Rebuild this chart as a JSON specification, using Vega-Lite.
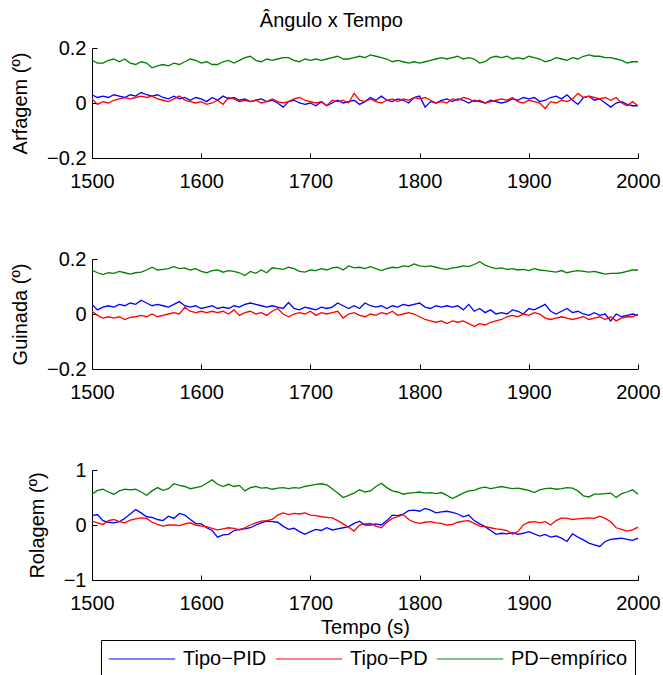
{
  "$schema": "https://vega.github.io/schema/vega-lite/v6.json",
  "padding": {"left": 10, "top": 11, "right": 5, "bottom": 5},
  "title": {"text": "Ângulo x Tempo", "fontSize": 20, "fontWeight": "normal", "font": "Liberation Sans", "color": "black", "anchor": "middle", "offset": 7, "dx": -4},
  "config": {
    "font": "Liberation Sans",
    "view": {"stroke": null},
    "axis": {"domainColor": "black", "tickColor": "black", "labelColor": "black", "titleColor": "black", "labelFontSize": 20, "titleFontSize": 20, "titleFontWeight": "normal", "grid": false, "tickSize": -5, "domainWidth": 1, "tickWidth": 1, "labelFont": "Liberation Sans", "titleFont": "Liberation Sans"},
    "axisY": {"labelPadding": 11, "titlePadding": 16},
    "axisX": {"labelPadding": 18, "titlePadding": 4, "labelFlush": false},
    "legend": {"orient": "none", "legendX": 9, "legendY": 592, "direction": "horizontal", "strokeColor": "black", "padding": 7, "symbolType": "stroke", "symbolSize": 4400, "symbolStrokeWidth": 1.2, "clipHeight": 24, "labelOffset": 7, "columnPadding": 8, "labelFontSize": 20, "labelFont": "Liberation Sans", "labelColor": "black", "labelLimit": 300, "title": null, "cornerRadius": 0}
  },
  "resolve": {"scale": {"color": "shared"}, "legend": {"color": "shared"}},
  "spacing": 58,
  "datasets": {
    "arfagem": [
      {"t":1500,"pid":0.03,"pd":0.015,"emp":0.155},{"t":1505,"pid":0.02,"pd":-0.005,"emp":0.145},{"t":1510,"pid":0.025,"pd":0.005,"emp":0.145},{"t":1515,"pid":0.02,"pd":0.0,"emp":0.155},{"t":1520,"pid":0.03,"pd":0.01,"emp":0.16},{"t":1525,"pid":0.025,"pd":0.015,"emp":0.15},{"t":1530,"pid":0.02,"pd":0.02,"emp":0.16},{"t":1535,"pid":0.03,"pd":0.015,"emp":0.145},{"t":1540,"pid":0.025,"pd":0.02,"emp":0.14},{"t":1545,"pid":0.038,"pd":0.025,"emp":0.15},
      {"t":1550,"pid":0.03,"pd":0.02,"emp":0.145},{"t":1555,"pid":0.025,"pd":0.025,"emp":0.128},{"t":1560,"pid":0.03,"pd":0.015,"emp":0.135},{"t":1565,"pid":0.02,"pd":0.01,"emp":0.14},{"t":1570,"pid":0.015,"pd":0.005,"emp":0.135},{"t":1575,"pid":0.025,"pd":0.015,"emp":0.145},{"t":1580,"pid":0.015,"pd":0.025,"emp":0.14},{"t":1585,"pid":0.02,"pd":0.01,"emp":0.15},{"t":1590,"pid":0.01,"pd":0.005,"emp":0.16},{"t":1595,"pid":0.02,"pd":0.0,"emp":0.155},
      {"t":1600,"pid":0.015,"pd":0.005,"emp":0.145},{"t":1605,"pid":0.005,"pd":-0.005,"emp":0.15},{"t":1610,"pid":0.02,"pd":0.0,"emp":0.14},{"t":1615,"pid":0.01,"pd":0.01,"emp":0.14},{"t":1620,"pid":0.025,"pd":-0.005,"emp":0.15},{"t":1625,"pid":0.015,"pd":0.02,"emp":0.155},{"t":1630,"pid":0.02,"pd":0.015,"emp":0.145},{"t":1635,"pid":0.01,"pd":0.005,"emp":0.155},{"t":1640,"pid":0.015,"pd":0.01,"emp":0.165},{"t":1645,"pid":0.005,"pd":0.005,"emp":0.17},
      {"t":1650,"pid":0.01,"pd":0.01,"emp":0.155},{"t":1655,"pid":0.015,"pd":0.0,"emp":0.15},{"t":1660,"pid":0.005,"pd":0.005,"emp":0.16},{"t":1665,"pid":0.01,"pd":0.015,"emp":0.155},{"t":1670,"pid":0.0,"pd":0.005,"emp":0.16},{"t":1675,"pid":-0.015,"pd":0.0,"emp":0.165},{"t":1680,"pid":0.005,"pd":0.005,"emp":0.165},{"t":1685,"pid":0.01,"pd":0.015,"emp":0.155},{"t":1690,"pid":0.0,"pd":0.02,"emp":0.15},{"t":1695,"pid":-0.005,"pd":0.01,"emp":0.16},
      {"t":1700,"pid":0.0,"pd":0.005,"emp":0.155},{"t":1705,"pid":-0.01,"pd":0.0,"emp":0.16},{"t":1710,"pid":0.005,"pd":0.005,"emp":0.155},{"t":1715,"pid":-0.01,"pd":-0.01,"emp":0.16},{"t":1720,"pid":0.0,"pd":0.01,"emp":0.165},{"t":1725,"pid":0.01,"pd":0.005,"emp":0.17},{"t":1730,"pid":0.0,"pd":0.01,"emp":0.16},{"t":1735,"pid":0.005,"pd":0.0,"emp":0.16},{"t":1740,"pid":0.01,"pd":0.035,"emp":0.165},{"t":1745,"pid":-0.005,"pd":0.01,"emp":0.17},
      {"t":1750,"pid":0.005,"pd":0.005,"emp":0.165},{"t":1755,"pid":0.02,"pd":0.015,"emp":0.175},{"t":1760,"pid":0.01,"pd":0.005,"emp":0.17},{"t":1765,"pid":0.025,"pd":0.0,"emp":0.165},{"t":1770,"pid":0.01,"pd":0.01,"emp":0.16},{"t":1775,"pid":0.005,"pd":0.015,"emp":0.15},{"t":1780,"pid":0.015,"pd":0.005,"emp":0.155},{"t":1785,"pid":0.01,"pd":0.015,"emp":0.15},{"t":1790,"pid":0.0,"pd":0.01,"emp":0.145},{"t":1795,"pid":0.02,"pd":0.02,"emp":0.15},
      {"t":1800,"pid":0.025,"pd":0.015,"emp":0.145},{"t":1805,"pid":-0.015,"pd":0.02,"emp":0.15},{"t":1810,"pid":0.005,"pd":0.01,"emp":0.155},{"t":1815,"pid":0.0,"pd":0.0,"emp":0.16},{"t":1820,"pid":0.01,"pd":0.005,"emp":0.165},{"t":1825,"pid":0.015,"pd":0.0,"emp":0.16},{"t":1830,"pid":0.005,"pd":0.015,"emp":0.165},{"t":1835,"pid":0.015,"pd":0.01,"emp":0.17},{"t":1840,"pid":0.01,"pd":0.02,"emp":0.16},{"t":1845,"pid":0.0,"pd":0.015,"emp":0.165},
      {"t":1850,"pid":0.01,"pd":0.005,"emp":0.16},{"t":1855,"pid":0.005,"pd":0.01,"emp":0.145},{"t":1860,"pid":0.0,"pd":0.0,"emp":0.15},{"t":1865,"pid":0.01,"pd":0.005,"emp":0.165},{"t":1870,"pid":0.005,"pd":0.01,"emp":0.17},{"t":1875,"pid":0.0,"pd":0.015,"emp":0.165},{"t":1880,"pid":0.005,"pd":0.01,"emp":0.17},{"t":1885,"pid":0.015,"pd":0.02,"emp":0.16},{"t":1890,"pid":0.01,"pd":0.005,"emp":0.165},{"t":1895,"pid":0.02,"pd":0.0,"emp":0.16},
      {"t":1900,"pid":0.015,"pd":0.01,"emp":0.17},{"t":1905,"pid":0.02,"pd":0.005,"emp":0.165},{"t":1910,"pid":0.005,"pd":0.0,"emp":0.16},{"t":1915,"pid":0.01,"pd":-0.02,"emp":0.15},{"t":1920,"pid":0.02,"pd":0.005,"emp":0.155},{"t":1925,"pid":0.025,"pd":0.0,"emp":0.165},{"t":1930,"pid":0.015,"pd":0.01,"emp":0.16},{"t":1935,"pid":0.03,"pd":0.005,"emp":0.155},{"t":1940,"pid":0.01,"pd":0.015,"emp":0.165},{"t":1945,"pid":-0.005,"pd":0.035,"emp":0.16},
      {"t":1950,"pid":0.02,"pd":0.02,"emp":0.17},{"t":1955,"pid":0.025,"pd":0.025,"emp":0.175},{"t":1960,"pid":0.01,"pd":0.02,"emp":0.17},{"t":1965,"pid":0.015,"pd":0.015,"emp":0.17},{"t":1970,"pid":0.0,"pd":0.02,"emp":0.165},{"t":1975,"pid":-0.015,"pd":0.01,"emp":0.165},{"t":1980,"pid":0.0,"pd":0.02,"emp":0.16},{"t":1985,"pid":0.005,"pd":0.0,"emp":0.155},{"t":1990,"pid":-0.005,"pd":-0.01,"emp":0.145},{"t":1995,"pid":-0.01,"pd":0.005,"emp":0.15},
      {"t":2000,"pid":-0.01,"pd":-0.01,"emp":0.15}
    ],
    "guinada": [
      {"t":1500,"pid":0.035,"pd":0.01,"emp":0.16},{"t":1505,"pid":0.015,"pd":-0.005,"emp":0.15},{"t":1510,"pid":0.025,"pd":-0.015,"emp":0.143},{"t":1515,"pid":0.03,"pd":-0.01,"emp":0.15},{"t":1520,"pid":0.025,"pd":-0.015,"emp":0.148},{"t":1525,"pid":0.035,"pd":-0.01,"emp":0.155},{"t":1530,"pid":0.03,"pd":-0.02,"emp":0.15},{"t":1535,"pid":0.04,"pd":-0.012,"emp":0.145},{"t":1540,"pid":0.035,"pd":-0.01,"emp":0.15},{"t":1545,"pid":0.05,"pd":-0.005,"emp":0.152},
      {"t":1550,"pid":0.04,"pd":-0.01,"emp":0.16},{"t":1555,"pid":0.03,"pd":0.0,"emp":0.17},{"t":1560,"pid":0.035,"pd":-0.01,"emp":0.16},{"t":1565,"pid":0.03,"pd":-0.005,"emp":0.162},{"t":1570,"pid":0.025,"pd":0.0,"emp":0.165},{"t":1575,"pid":0.035,"pd":0.005,"emp":0.172},{"t":1580,"pid":0.045,"pd":0.0,"emp":0.165},{"t":1585,"pid":0.03,"pd":0.025,"emp":0.168},{"t":1590,"pid":0.025,"pd":0.01,"emp":0.16},{"t":1595,"pid":0.03,"pd":0.005,"emp":0.165},
      {"t":1600,"pid":0.02,"pd":0.01,"emp":0.155},{"t":1605,"pid":0.025,"pd":0.005,"emp":0.15},{"t":1610,"pid":0.03,"pd":0.01,"emp":0.158},{"t":1615,"pid":0.02,"pd":0.005,"emp":0.16},{"t":1620,"pid":0.025,"pd":0.01,"emp":0.152},{"t":1625,"pid":0.02,"pd":0.0,"emp":0.158},{"t":1630,"pid":0.03,"pd":0.015,"emp":0.155},{"t":1635,"pid":0.025,"pd":-0.005,"emp":0.15},{"t":1640,"pid":0.035,"pd":0.005,"emp":0.14},{"t":1645,"pid":0.04,"pd":0.01,"emp":0.155},
      {"t":1650,"pid":0.035,"pd":0.0,"emp":0.148},{"t":1655,"pid":0.03,"pd":0.005,"emp":0.16},{"t":1660,"pid":0.025,"pd":-0.005,"emp":0.15},{"t":1665,"pid":0.03,"pd":0.01,"emp":0.168},{"t":1670,"pid":0.025,"pd":0.02,"emp":0.165},{"t":1675,"pid":0.02,"pd":0.0,"emp":0.162},{"t":1680,"pid":0.042,"pd":-0.01,"emp":0.17},{"t":1685,"pid":0.02,"pd":0.0,"emp":0.165},{"t":1690,"pid":0.015,"pd":0.005,"emp":0.155},{"t":1695,"pid":0.025,"pd":0.0,"emp":0.152},
      {"t":1700,"pid":0.02,"pd":0.01,"emp":0.16},{"t":1705,"pid":0.015,"pd":-0.005,"emp":0.158},{"t":1710,"pid":0.025,"pd":0.005,"emp":0.165},{"t":1715,"pid":0.02,"pd":0.0,"emp":0.16},{"t":1720,"pid":0.025,"pd":0.005,"emp":0.168},{"t":1725,"pid":0.04,"pd":0.01,"emp":0.17},{"t":1730,"pid":0.03,"pd":-0.015,"emp":0.16},{"t":1735,"pid":0.02,"pd":0.0,"emp":0.175},{"t":1740,"pid":0.03,"pd":0.005,"emp":0.168},{"t":1745,"pid":0.02,"pd":-0.005,"emp":0.17},
      {"t":1750,"pid":0.04,"pd":-0.01,"emp":0.165},{"t":1755,"pid":0.03,"pd":0.0,"emp":0.172},{"t":1760,"pid":0.025,"pd":-0.005,"emp":0.165},{"t":1765,"pid":0.03,"pd":0.005,"emp":0.158},{"t":1770,"pid":0.02,"pd":0.0,"emp":0.165},{"t":1775,"pid":0.03,"pd":0.01,"emp":0.17},{"t":1780,"pid":0.025,"pd":-0.005,"emp":0.168},{"t":1785,"pid":0.035,"pd":0.0,"emp":0.175},{"t":1790,"pid":0.03,"pd":0.005,"emp":0.172},{"t":1795,"pid":0.035,"pd":0.0,"emp":0.182},
      {"t":1800,"pid":0.04,"pd":-0.01,"emp":0.175},{"t":1805,"pid":0.025,"pd":-0.02,"emp":0.172},{"t":1810,"pid":0.02,"pd":-0.025,"emp":0.175},{"t":1815,"pid":0.03,"pd":-0.03,"emp":0.17},{"t":1820,"pid":0.025,"pd":-0.025,"emp":0.165},{"t":1825,"pid":0.03,"pd":-0.035,"emp":0.162},{"t":1830,"pid":0.025,"pd":-0.025,"emp":0.168},{"t":1835,"pid":0.03,"pd":-0.03,"emp":0.17},{"t":1840,"pid":0.015,"pd":-0.025,"emp":0.175},{"t":1845,"pid":0.035,"pd":-0.035,"emp":0.172},
      {"t":1850,"pid":0.01,"pd":-0.045,"emp":0.18},{"t":1855,"pid":0.02,"pd":-0.035,"emp":0.19},{"t":1860,"pid":0.005,"pd":-0.04,"emp":0.178},{"t":1865,"pid":0.015,"pd":-0.03,"emp":0.17},{"t":1870,"pid":0.0,"pd":-0.025,"emp":0.165},{"t":1875,"pid":0.005,"pd":-0.02,"emp":0.168},{"t":1880,"pid":0.0,"pd":-0.01,"emp":0.162},{"t":1885,"pid":0.015,"pd":-0.005,"emp":0.165},{"t":1890,"pid":0.01,"pd":-0.01,"emp":0.16},{"t":1895,"pid":0.0,"pd":0.0,"emp":0.162},
      {"t":1900,"pid":0.02,"pd":-0.005,"emp":0.158},{"t":1905,"pid":0.015,"pd":0.005,"emp":0.165},{"t":1910,"pid":0.025,"pd":0.0,"emp":0.16},{"t":1915,"pid":0.035,"pd":-0.015,"emp":0.158},{"t":1920,"pid":0.01,"pd":-0.02,"emp":0.155},{"t":1925,"pid":0.0,"pd":-0.015,"emp":0.152},{"t":1930,"pid":0.01,"pd":-0.01,"emp":0.158},{"t":1935,"pid":0.02,"pd":-0.015,"emp":0.15},{"t":1940,"pid":0.005,"pd":-0.02,"emp":0.155},{"t":1945,"pid":0.01,"pd":-0.015,"emp":0.158},
      {"t":1950,"pid":0.0,"pd":-0.01,"emp":0.155},{"t":1955,"pid":-0.005,"pd":-0.02,"emp":0.152},{"t":1960,"pid":0.005,"pd":-0.015,"emp":0.155},{"t":1965,"pid":-0.005,"pd":-0.01,"emp":0.15},{"t":1970,"pid":0.0,"pd":-0.02,"emp":0.145},{"t":1975,"pid":-0.025,"pd":-0.01,"emp":0.148},{"t":1980,"pid":0.0,"pd":-0.025,"emp":0.148},{"t":1985,"pid":-0.01,"pd":-0.015,"emp":0.15},{"t":1990,"pid":-0.005,"pd":-0.01,"emp":0.155},{"t":1995,"pid":0.0,"pd":-0.01,"emp":0.16},
      {"t":2000,"pid":-0.005,"pd":0.0,"emp":0.16}
    ],
    "rolagem": [
      {"t":1500,"pid":0.17,"pd":0.07,"emp":0.56},{"t":1505,"pid":0.19,"pd":0.04,"emp":0.63},{"t":1510,"pid":0.08,"pd":0.01,"emp":0.65},{"t":1515,"pid":0.05,"pd":0.08,"emp":0.6},{"t":1520,"pid":0.04,"pd":0.1,"emp":0.56},{"t":1525,"pid":0.06,"pd":0.06,"emp":0.62},{"t":1530,"pid":0.12,"pd":0.04,"emp":0.65},{"t":1535,"pid":0.2,"pd":0.09,"emp":0.64},{"t":1540,"pid":0.28,"pd":0.11,"emp":0.65},{"t":1545,"pid":0.22,"pd":0.13,"emp":0.6},
      {"t":1550,"pid":0.15,"pd":0.12,"emp":0.54},{"t":1555,"pid":0.14,"pd":0.05,"emp":0.62},{"t":1560,"pid":0.1,"pd":0.01,"emp":0.68},{"t":1565,"pid":0.08,"pd":-0.02,"emp":0.63},{"t":1570,"pid":0.16,"pd":0.0,"emp":0.66},{"t":1575,"pid":0.12,"pd":0.0,"emp":0.75},{"t":1580,"pid":0.21,"pd":-0.01,"emp":0.72},{"t":1585,"pid":0.18,"pd":0.02,"emp":0.7},{"t":1590,"pid":0.1,"pd":0.04,"emp":0.66},{"t":1595,"pid":0.03,"pd":0.0,"emp":0.68},
      {"t":1600,"pid":0.02,"pd":-0.02,"emp":0.7},{"t":1605,"pid":-0.05,"pd":-0.03,"emp":0.76},{"t":1610,"pid":-0.1,"pd":-0.06,"emp":0.82},{"t":1615,"pid":-0.22,"pd":-0.09,"emp":0.74},{"t":1620,"pid":-0.18,"pd":-0.07,"emp":0.7},{"t":1625,"pid":-0.17,"pd":-0.05,"emp":0.74},{"t":1630,"pid":-0.1,"pd":-0.06,"emp":0.7},{"t":1635,"pid":-0.08,"pd":-0.09,"emp":0.72},{"t":1640,"pid":-0.07,"pd":-0.05,"emp":0.62},{"t":1645,"pid":-0.05,"pd":0.0,"emp":0.68},
      {"t":1650,"pid":0.0,"pd":0.04,"emp":0.7},{"t":1655,"pid":0.04,"pd":0.07,"emp":0.67},{"t":1660,"pid":0.07,"pd":0.08,"emp":0.68},{"t":1665,"pid":0.06,"pd":0.1,"emp":0.65},{"t":1670,"pid":0.05,"pd":0.18,"emp":0.67},{"t":1675,"pid":-0.02,"pd":0.22,"emp":0.68},{"t":1680,"pid":-0.08,"pd":0.19,"emp":0.66},{"t":1685,"pid":-0.06,"pd":0.21,"emp":0.68},{"t":1690,"pid":-0.12,"pd":0.2,"emp":0.67},{"t":1695,"pid":-0.17,"pd":0.22,"emp":0.7},
      {"t":1700,"pid":-0.12,"pd":0.18,"emp":0.72},{"t":1705,"pid":-0.08,"pd":0.17,"emp":0.74},{"t":1710,"pid":-0.1,"pd":0.15,"emp":0.75},{"t":1715,"pid":-0.05,"pd":0.14,"emp":0.73},{"t":1720,"pid":-0.09,"pd":0.13,"emp":0.66},{"t":1725,"pid":-0.07,"pd":0.08,"emp":0.58},{"t":1730,"pid":-0.05,"pd":0.02,"emp":0.5},{"t":1735,"pid":-0.03,"pd":-0.04,"emp":0.54},{"t":1740,"pid":0.03,"pd":-0.11,"emp":0.58},{"t":1745,"pid":0.07,"pd":0.0,"emp":0.64},
      {"t":1750,"pid":0.0,"pd":0.02,"emp":0.6},{"t":1755,"pid":0.0,"pd":0.03,"emp":0.62},{"t":1760,"pid":0.02,"pd":-0.02,"emp":0.7},{"t":1765,"pid":0.0,"pd":-0.05,"emp":0.76},{"t":1770,"pid":0.08,"pd":0.05,"emp":0.68},{"t":1775,"pid":0.18,"pd":0.12,"emp":0.62},{"t":1780,"pid":0.17,"pd":0.15,"emp":0.6},{"t":1785,"pid":0.2,"pd":0.19,"emp":0.56},{"t":1790,"pid":0.26,"pd":0.1,"emp":0.58},{"t":1795,"pid":0.27,"pd":0.05,"emp":0.59},
      {"t":1800,"pid":0.25,"pd":0.03,"emp":0.6},{"t":1805,"pid":0.3,"pd":0.05,"emp":0.58},{"t":1810,"pid":0.27,"pd":0.06,"emp":0.59},{"t":1815,"pid":0.22,"pd":0.04,"emp":0.57},{"t":1820,"pid":0.24,"pd":0.03,"emp":0.59},{"t":1825,"pid":0.25,"pd":0.0,"emp":0.54},{"t":1830,"pid":0.23,"pd":0.01,"emp":0.48},{"t":1835,"pid":0.2,"pd":0.05,"emp":0.53},{"t":1840,"pid":0.15,"pd":0.07,"emp":0.58},{"t":1845,"pid":0.18,"pd":0.08,"emp":0.62},
      {"t":1850,"pid":0.08,"pd":0.03,"emp":0.63},{"t":1855,"pid":0.02,"pd":-0.02,"emp":0.67},{"t":1860,"pid":-0.03,"pd":-0.03,"emp":0.69},{"t":1865,"pid":-0.1,"pd":-0.05,"emp":0.66},{"t":1870,"pid":-0.17,"pd":-0.07,"emp":0.68},{"t":1875,"pid":-0.15,"pd":-0.08,"emp":0.7},{"t":1880,"pid":-0.16,"pd":-0.1,"emp":0.68},{"t":1885,"pid":-0.14,"pd":-0.17,"emp":0.66},{"t":1890,"pid":-0.17,"pd":-0.12,"emp":0.67},{"t":1895,"pid":-0.15,"pd":0.0,"emp":0.65},
      {"t":1900,"pid":-0.12,"pd":0.05,"emp":0.63},{"t":1905,"pid":-0.16,"pd":0.06,"emp":0.59},{"t":1910,"pid":-0.2,"pd":0.04,"emp":0.64},{"t":1915,"pid":-0.17,"pd":0.06,"emp":0.66},{"t":1920,"pid":-0.22,"pd":0.0,"emp":0.67},{"t":1925,"pid":-0.2,"pd":0.08,"emp":0.65},{"t":1930,"pid":-0.24,"pd":0.13,"emp":0.66},{"t":1935,"pid":-0.3,"pd":0.12,"emp":0.68},{"t":1940,"pid":-0.16,"pd":0.1,"emp":0.67},{"t":1945,"pid":-0.22,"pd":0.11,"emp":0.62},
      {"t":1950,"pid":-0.27,"pd":0.12,"emp":0.53},{"t":1955,"pid":-0.33,"pd":0.13,"emp":0.51},{"t":1960,"pid":-0.36,"pd":0.12,"emp":0.56},{"t":1965,"pid":-0.39,"pd":0.16,"emp":0.56},{"t":1970,"pid":-0.3,"pd":0.12,"emp":0.57},{"t":1975,"pid":-0.26,"pd":0.06,"emp":0.58},{"t":1980,"pid":-0.25,"pd":-0.05,"emp":0.5},{"t":1985,"pid":-0.24,"pd":-0.08,"emp":0.57},{"t":1990,"pid":-0.26,"pd":-0.11,"emp":0.6},{"t":1995,"pid":-0.28,"pd":-0.09,"emp":0.64},
      {"t":2000,"pid":-0.24,"pd":-0.04,"emp":0.56}
    ]
  },
  "vconcat": [
    {
      "width": 546, "height": 110,
      "data": {"name": "arfagem"},
      "transform": [{"fold": ["pid", "pd", "emp"], "as": ["serie", "v"]}],
      "mark": {"type": "line", "strokeWidth": 1.3, "clip": true},
      "encoding": {
        "x": {"field": "t", "type": "quantitative", "scale": {"domain": [1500, 2000], "nice": false, "zero": false}, "axis": {"values": [1500, 1600, 1700, 1800, 1900, 2000], "format": "d", "title": null, "labelFlush": false}},
        "y": {"field": "v", "type": "quantitative", "scale": {"domain": [-0.2, 0.2], "nice": false, "zero": false}, "axis": {"values": [-0.2, 0, 0.2], "format": "~g", "title": "Arfagem (º)"}},
        "color": {"field": "serie", "type": "nominal", "scale": {"domain": ["pid", "pd", "emp"], "range": ["#0000ff", "#ff0000", "#008000"]}, "legend": {"labelExpr": "datum.label == 'pid' ? 'Tipo−PID' : datum.label == 'pd' ? 'Tipo−PD' : 'PD−empírico'"}},
        "order": {"field": "t", "type": "quantitative"}
      }
    },
    {
      "width": 546, "height": 110,
      "data": {"name": "guinada"},
      "transform": [{"fold": ["pid", "pd", "emp"], "as": ["serie", "v"]}],
      "mark": {"type": "line", "strokeWidth": 1.3, "clip": true},
      "encoding": {
        "x": {"field": "t", "type": "quantitative", "scale": {"domain": [1500, 2000], "nice": false, "zero": false}, "axis": {"values": [1500, 1600, 1700, 1800, 1900, 2000], "format": "d", "title": null, "labelFlush": false}},
        "y": {"field": "v", "type": "quantitative", "scale": {"domain": [-0.2, 0.2], "nice": false, "zero": false}, "axis": {"values": [-0.2, 0, 0.2], "format": "~g", "title": "Guinada (º)"}},
        "color": {"field": "serie", "type": "nominal", "scale": {"domain": ["pid", "pd", "emp"], "range": ["#0000ff", "#ff0000", "#008000"]}, "legend": {"labelExpr": "datum.label == 'pid' ? 'Tipo−PID' : datum.label == 'pd' ? 'Tipo−PD' : 'PD−empírico'"}},
        "order": {"field": "t", "type": "quantitative"}
      }
    },
    {
      "width": 546, "height": 110,
      "data": {"name": "rolagem"},
      "transform": [{"fold": ["pid", "pd", "emp"], "as": ["serie", "v"]}],
      "mark": {"type": "line", "strokeWidth": 1.3, "clip": true},
      "encoding": {
        "x": {"field": "t", "type": "quantitative", "scale": {"domain": [1500, 2000], "nice": false, "zero": false}, "axis": {"values": [1500, 1600, 1700, 1800, 1900, 2000], "format": "d", "title": "Tempo (s)", "labelFlush": false}},
        "y": {"field": "v", "type": "quantitative", "scale": {"domain": [-1, 1], "nice": false, "zero": false}, "axis": {"values": [-1, 0, 1], "format": "~g", "title": "Rolagem (º)"}},
        "color": {"field": "serie", "type": "nominal", "scale": {"domain": ["pid", "pd", "emp"], "range": ["#0000ff", "#ff0000", "#008000"]}, "legend": {"labelExpr": "datum.label == 'pid' ? 'Tipo−PID' : datum.label == 'pd' ? 'Tipo−PD' : 'PD−empírico'"}},
        "order": {"field": "t", "type": "quantitative"}
      }
    }
  ]
}
